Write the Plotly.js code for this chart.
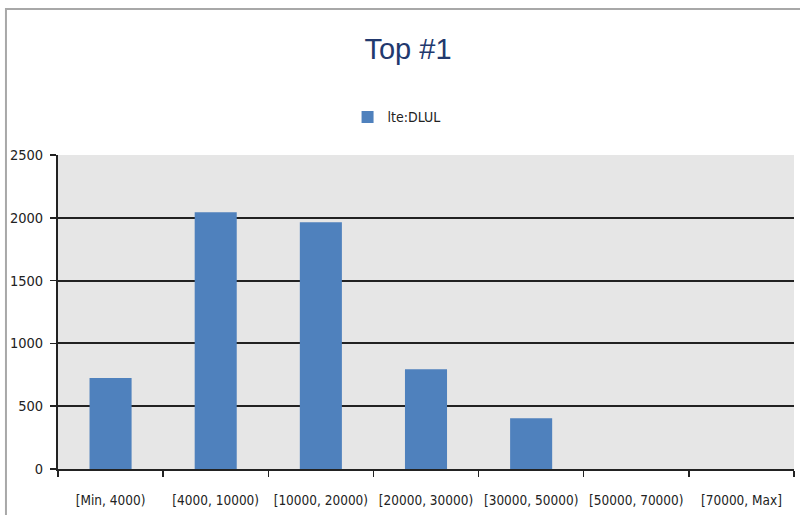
<!DOCTYPE html>
<html>
<head>
<meta charset="utf-8">
<script src="https://cdn.plot.ly/plotly-3.0.1.min.js"></script>
<style>
html,body{margin:0;padding:0;background:#fff;}
#chart{width:800px;height:515px;}
</style>
</head>
<body>
<div id="chart"></div>
<script>
const categories = ["[Min, 4000)", "[4000, 10000)", "[10000, 20000)", "[20000, 30000)", "[30000, 50000)", "[50000, 70000)", "[70000, Max]"];
const seriesName = "lte:DLUL";
const seriesValues = [725, 2045, 1965, 795, 405, 0, 0];
const yTicks = [0, 500, 1000, 1500, 2000, 2500];

const trace = {
  type: "bar",
  x: categories,
  y: seriesValues,
  name: seriesName,
  marker: {color: "#4f81bd"},
  showlegend: true
};

const layout = {
  width: 800,
  height: 515,
  margin: {l: 58, r: 6, t: 155, b: 46},
  paper_bgcolor: "#ffffff",
  plot_bgcolor: "#e6e6e6",
  bargap: 0.6,
  title: {
    text: "Top #1",
    font: {family: "Liberation Sans, Arial, sans-serif", size: 29, color: "#22396e"},
    x: 0.51, xanchor: "center",
    y: 0.905, yanchor: "middle"
  },
  showlegend: true,
  legend: {
    orientation: "h",
    x: 0.46, xanchor: "center",
    y: 1.12, yanchor: "middle",
    font: {family: "DejaVu Sans Condensed, sans-serif", size: 14, color: "#222"},
    itemwidth: 30
  },
  xaxis: {
    type: "category",
    tickson: "boundaries",
    ticks: "outside",
    ticklen: 6,
    tickcolor: "#222",
    tickwidth: 1.5,
    tickangle: 0,
    showline: true,
    linecolor: "#222",
    linewidth: 2,
    showgrid: false,
    tickfont: {family: "DejaVu Sans Condensed, sans-serif", size: 13.5, color: "#222"},
    ticklabelstandoff: 18
  },
  yaxis: {
    range: [0, 2500],
    tickvals: yTicks,
    ticktext: yTicks.map(String),
    ticks: "outside",
    ticklen: 6,
    tickcolor: "#222",
    tickwidth: 1.5,
    showline: true,
    linecolor: "#222",
    linewidth: 2,
    showgrid: true,
    gridcolor: "#222",
    gridwidth: 2,
    zeroline: false,
    tickfont: {family: "DejaVu Sans Condensed, sans-serif", size: 14.5, color: "#222"},
    ticklabelstandoff: 4
  },
  shapes: [{
    type: "rect",
    xref: "paper", yref: "paper",
    x0: -0.0707, x1: 1.2, y0: -0.5, y1: 1.465,
    line: {color: "#a8a8a8", width: 2},
    fillcolor: "rgba(0,0,0,0)",
    layer: "below"
  }]
};

Plotly.newPlot("chart", [trace], layout, {displayModeBar: false, staticPlot: true});
</script>
</body>
</html>
